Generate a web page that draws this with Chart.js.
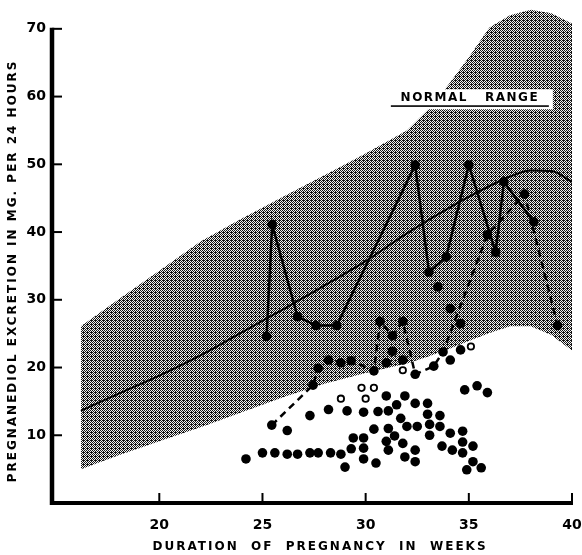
<!DOCTYPE html>
<html>
<head>
<meta charset="utf-8">
<script src="https://cdn.jsdelivr.net/npm/chart.js@4.4.0/dist/chart.umd.min.js"></script>
<style>
  html, body { margin: 0; padding: 0; background: #fff; }
</style>
</head>
<body>
<canvas id="chart" width="582" height="555"></canvas>
<script>
// normal range band (weeks / mg per 24 h)
var rangeWeeks  = [16.2, 18, 20, 22, 24, 26, 28, 30, 32, 33, 34, 35, 36, 37, 38, 39, 40];
var rangeTop    = [26.1, 30.0, 34.3, 38.6, 42.0, 45.2, 48.4, 51.6, 55.0, 58.0, 61.7, 65.8, 70.2, 72.0, 72.8, 72.3, 70.8];
var rangeBottom = [5.0, 7.0, 9.1, 11.2, 13.4, 15.6, 17.6, 19.2, 20.6, 21.6, 22.7, 23.9, 25.1, 26.1, 26.1, 24.8, 22.5];

// mean curve
var meanWeeks  = [16.2, 18, 20, 22, 24, 26, 28, 30, 32, 34, 36, 37, 38, 39, 40];
var meanValues = [13.6, 16.1, 18.8, 21.8, 25.2, 28.6, 32.1, 35.7, 39.8, 43.5, 46.8, 48.2, 49.1, 49.0, 47.4];

// patient with solid line
var solidWeeks  = [25.2, 25.47, 26.7, 27.6, 28.6, 32.4, 33.07, 33.9, 35.0, 36.3, 36.7, 38.15];
var solidValues = [24.6, 41.1, 27.5, 26.2, 26.2, 49.9, 34.1, 36.3, 49.9, 37.0, 47.4, 41.5];

// patient with broken line
var dashedWeeks  = [25.45, 27.45, 27.7, 28.2, 28.8, 29.3, 30.4, 30.7, 31.3, 31.8, 32.4, 33.3, 33.75, 35.9, 37.7, 39.3];
var dashedValues = [11.5, 17.4, 19.9, 21.1, 20.7, 21.0, 19.5, 26.8, 24.7, 26.8, 19.0, 20.2, 22.3, 39.6, 45.6, 26.2];

// single estimations
var dotWeeks = [24.2, 25.0, 25.6, 26.2, 26.7, 27.3, 27.7, 28.3, 28.8, 29.0,
                29.3, 29.4, 29.9, 29.9, 29.9, 30.5, 30.4, 31.0, 31.1, 31.1,
                31.4, 31.8, 31.9, 32.4, 32.4, 32.0, 32.5, 33.1, 33.1, 33.6,
                33.7, 34.1, 34.2, 34.7, 34.7, 34.7, 35.2, 35.2, 34.9, 35.6,
                27.3, 28.2, 29.1, 29.9, 30.6, 31.1, 31.5, 31.7, 31.0, 31.9,
                32.4, 33.0, 33.0, 33.6, 34.8, 35.4, 35.9, 26.2, 31.0, 31.3,
                31.8, 34.1, 34.6, 33.5, 34.1, 34.6];
var dotValues = [6.5, 7.4, 7.4, 7.2, 7.2, 7.4, 7.4, 7.4, 7.2, 5.3,
                 8.0, 9.6, 9.6, 8.1, 6.5, 5.9, 10.9, 9.1, 7.8, 11.0,
                 9.9, 8.8, 6.8, 7.8, 6.1, 11.3, 11.3, 11.6, 10.0, 11.3,
                 8.4, 10.3, 7.8, 10.6, 9.0, 7.4, 8.4, 6.1, 4.9, 5.2,
                 12.9, 13.8, 13.6, 13.4, 13.5, 13.6, 14.5, 12.5, 15.8, 15.8,
                 14.7, 14.7, 13.1, 12.9, 16.7, 17.3, 16.3, 10.7, 20.7, 22.4,
                 21.1, 21.1, 22.6, 31.9, 28.7, 26.5];
var openWeeks  = [28.8, 29.8, 30.4, 30.0, 31.8, 35.1];
var openValues = [15.4, 17.0, 17.0, 15.4, 19.6, 23.1];

var xTicks = [20, 25, 30, 35, 40];
var yTicks = [10, 20, 30, 40, 50, 60, 70];
var labelWeek = 35.05, labelValue = 59.6;
var xTitle = 'DURATION  OF  PREGNANCY  IN  WEEKS';
var yTitle = 'PREGNANEDIOL EXCRETION IN MG. PER 24 HOURS';
var font = '"DejaVu Sans"';

function pts(xs, ys) {
  return xs.map(function (x, i) { return { x: x, y: ys[i] }; });
}

// halftone look of the printed band
var stipple = (function () {
  var c = document.createElement('canvas');
  c.width = 4; c.height = 4;
  var g = c.getContext('2d');
  g.fillStyle = '#f2f2f2';
  g.fillRect(0, 0, 4, 4);
  g.fillStyle = '#141414';
  [[0,0],[2,0],[1,1],[3,1],[0,2],[2,2],[1,3],[3,3],[3,0]].forEach(function (p) {
    g.fillRect(p[0], p[1], 1, 1);
  });
  return g.createPattern(c, 'repeat');
})();

var decor = {
  id: 'decor',
  afterDatasetsDraw: function (chart) {
    var ctx = chart.ctx, xs = chart.scales.x, ys = chart.scales.y, area = chart.chartArea;
    ctx.save();
    ctx.strokeStyle = '#000';
    ctx.fillStyle = '#000';

    // y axis stops at the top tick
    ctx.lineWidth = 4.5;
    ctx.beginPath();
    ctx.moveTo(area.left, ys.getPixelForValue(0) + 2);
    ctx.lineTo(area.left, ys.getPixelForValue(yTicks[yTicks.length - 1]) - 1);
    ctx.stroke();

    // ticks point inwards
    ctx.lineWidth = 2;
    yTicks.forEach(function (v) {
      var py = ys.getPixelForValue(v);
      ctx.beginPath();
      ctx.moveTo(area.left, py);
      ctx.lineTo(area.left + 10, py);
      ctx.stroke();
    });
    xTicks.forEach(function (v) {
      var px = xs.getPixelForValue(v);
      ctx.beginPath();
      ctx.moveTo(px, area.bottom);
      ctx.lineTo(px, area.bottom - 10);
      ctx.stroke();
    });

    // "normal range" tag
    var cx = xs.getPixelForValue(labelWeek), cy = ys.getPixelForValue(labelValue);
    ctx.fillStyle = '#fff';
    ctx.fillRect(cx - 83, cy - 10, 166, 20);
    ctx.fillStyle = '#000';
    ctx.font = 'bold 12px ' + font;
    ctx.letterSpacing = '1.5px';
    ctx.textAlign = 'center';
    ctx.textBaseline = 'middle';
    ctx.fillText('NORMAL   RANGE', cx, cy - 1);
    ctx.fillRect(cx - 79, cy + 6, 158, 1.6);

    // axis titles
    ctx.letterSpacing = '2px';
    ctx.fillText(xTitle, (area.left + area.right) / 2 + 8, 547);
    ctx.translate(13, (ys.getPixelForValue(0) + ys.getPixelForValue(70)) / 2 + 5);
    ctx.rotate(-Math.PI / 2);
    ctx.fillText(yTitle, 0, 0);
    ctx.restore();
  }
};

new Chart(document.getElementById('chart'), {
  type: 'line',
  data: {
    datasets: [
      { data: pts(rangeWeeks, rangeTop), borderColor: 'transparent', borderWidth: 0,
        pointRadius: 0, fill: false, order: 10 },
      { data: pts(rangeWeeks, rangeBottom), borderColor: 'transparent', borderWidth: 0,
        pointRadius: 0, fill: '-1', backgroundColor: stipple, order: 9 },
      { data: pts(meanWeeks, meanValues), borderColor: '#000', borderWidth: 2,
        pointRadius: 0, cubicInterpolationMode: 'monotone', order: 5 },
      { data: pts(solidWeeks, solidValues), borderColor: '#000', borderWidth: 2.5,
        pointRadius: 4.8, pointBackgroundColor: '#000', pointBorderWidth: 0, order: 2 },
      { data: pts(dashedWeeks, dashedValues), borderColor: '#000', borderWidth: 2.5,
        borderDash: [7, 5], pointRadius: 4.8, pointBackgroundColor: '#000', pointBorderWidth: 0, order: 2 },
      { data: pts(dotWeeks, dotValues), showLine: false, pointRadius: 4.8,
        pointBackgroundColor: '#000', pointBorderWidth: 0, order: 1 },
      { data: pts(openWeeks, openValues), showLine: false, pointRadius: 3.2,
        pointBackgroundColor: '#fff', pointBorderColor: '#000', pointBorderWidth: 1.8, order: 1 }
    ]
  },
  options: {
    responsive: false,
    animation: false,
    layout: { padding: { top: 0, right: 10, bottom: 0, left: 0 } },
    plugins: { legend: { display: false }, tooltip: { enabled: false } },
    scales: {
      x: {
        type: 'linear', min: 14.8, max: 40,
        border: { display: true, width: 4, color: '#000' },
        grid: { display: true, drawOnChartArea: false, drawTicks: false },
        ticks: { color: '#000', padding: 14, font: { family: font, weight: 'bold', size: 14 } },
        afterBuildTicks: function (s) { s.ticks = xTicks.map(function (v) { return { value: v }; }); },
        afterFit: function (s) { s.height = 52; s.paddingLeft = 0; s.paddingRight = 0; }
      },
      y: {
        min: 0, max: 73.4,
        border: { display: false },
        grid: { display: true, drawOnChartArea: false, drawTicks: false },
        ticks: { color: '#000', padding: 6, font: { family: font, weight: 'bold', size: 14 } },
        afterBuildTicks: function (s) { s.ticks = yTicks.map(function (v) { return { value: v }; }); },
        afterFit: function (s) { s.width = 52; s.paddingTop = 0; s.paddingBottom = 0; }
      }
    }
  },
  plugins: [decor]
});
</script>
</body>
</html>
